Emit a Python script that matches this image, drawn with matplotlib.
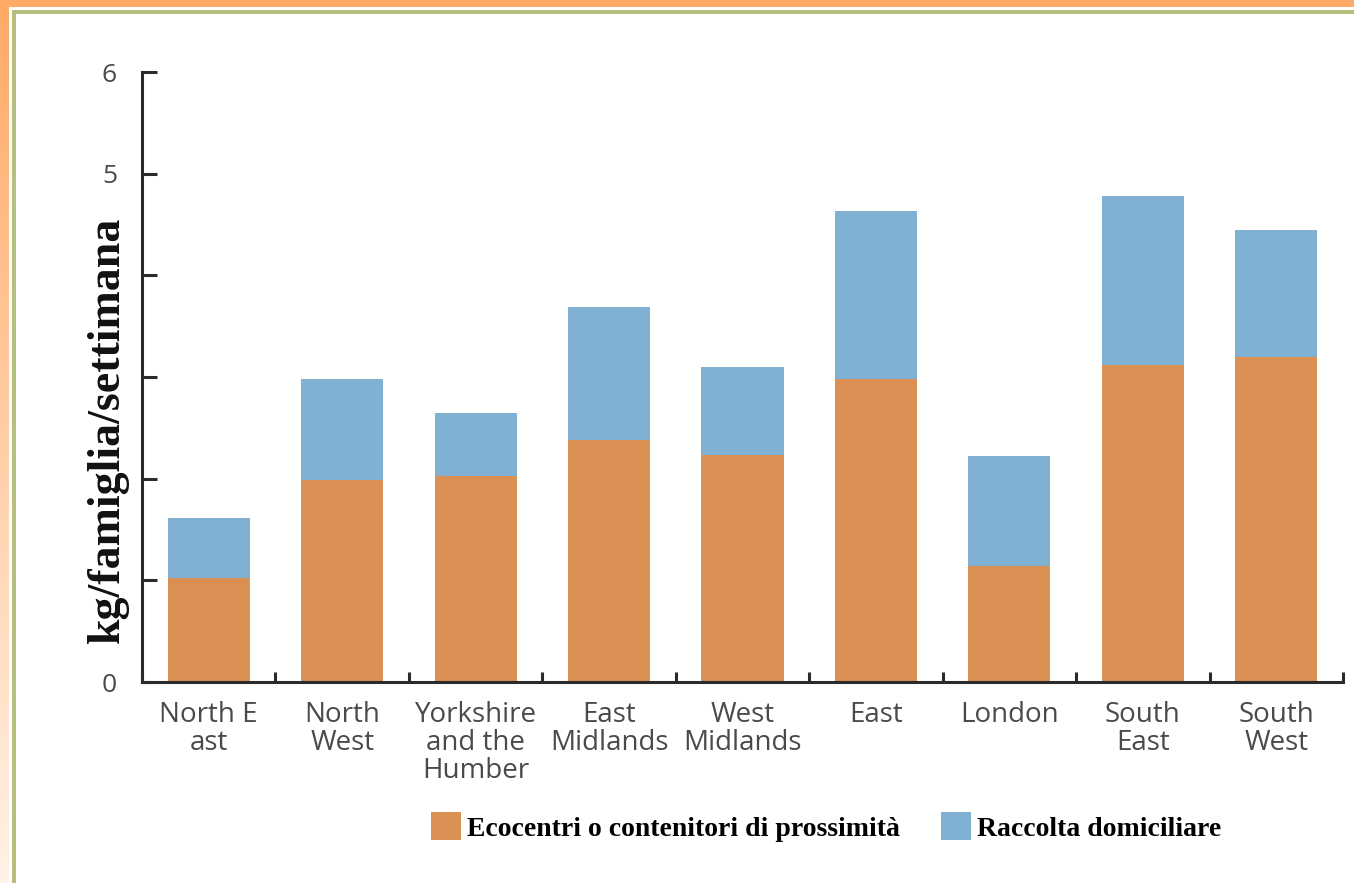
import matplotlib
matplotlib.use("Agg")
import matplotlib.pyplot as plt
import numpy as np
from matplotlib.patches import Rectangle, Patch
from matplotlib.colors import LinearSegmentedColormap

regions = ["North E\nast", "North\nWest", "Yorkshire\nand the\nHumber", "East\nMidlands",
           "West\nMidlands", "East", "London", "South\nEast", "South\nWest"]
ecocentri = [1.02, 1.99, 2.03, 2.38, 2.23, 2.98, 1.14, 3.12, 3.20]
domiciliare = [0.59, 0.99, 0.62, 1.31, 0.87, 1.65, 1.08, 1.66, 1.25]
yticks = [0, 1, 2, 3, 4, 5, 6]
ytick_labels = ["0", "", "", "", "", "5", "6"]
series_names = ["Ecocentri o contenitori di prossimità", "Raccolta domiciliare"]

ORANGE = "#DA8F53"
BLUE = "#80B1D3"
W, H = 1354, 883

fig = plt.figure(figsize=(W / 100, H / 100), dpi=100)
fig.patch.set_facecolor("white")

# frame decorations
bg = fig.add_axes([0, 0, 9 / W, 1])
grad = np.linspace(0, 1, 256).reshape(-1, 1)
cmap = LinearSegmentedColormap.from_list("g", ["#FFAA66", "#FFF2E6"])
bg.imshow(grad, aspect="auto", cmap=cmap, extent=[0, 1, 0, 1], origin="upper")
bg.axis("off")
fig.patches.append(Rectangle((0, 1 - 7 / H), 1, 7 / H, transform=fig.transFigure,
                             facecolor="#FFAA66", edgecolor="none", zorder=0))
fig.patches.append(Rectangle((12 / W, 0), 4 / W, 1 - 11 / H, transform=fig.transFigure,
                             facecolor="#B8BF7E", edgecolor="none", zorder=0))
fig.patches.append(Rectangle((12 / W, 1 - 14 / H), 1, 4 / H, transform=fig.transFigure,
                             facecolor="#B8BF7E", edgecolor="none", zorder=0))

ax = fig.add_axes([142 / W, (H - 682) / H, (1343 - 142) / W, (682 - 72) / H])
ax.set_facecolor("none")
x = np.arange(len(regions))
ax.bar(x, ecocentri, width=0.615, color=ORANGE, label=series_names[0], zorder=2)
ax.bar(x, domiciliare, width=0.615, bottom=ecocentri, color=BLUE, label=series_names[1], zorder=2)

ax.set_xlim(-0.5, len(regions) - 0.5)
ax.set_ylim(0, 6)
for s in ["top", "right"]:
    ax.spines[s].set_visible(False)
for s in ["left", "bottom"]:
    ax.spines[s].set_linewidth(2.2)
    ax.spines[s].set_color("#2b2b2b")

ax.set_yticks(yticks)
ax.set_yticklabels(ytick_labels, fontsize=19, color="#4a4a4a", family="Open Sans")
ax.tick_params(axis="y", direction="in", length=11, width=2.2, color="#2b2b2b", pad=18)

ax.set_xticks(np.arange(-0.5, len(regions)), minor=False)
ax.set_xticklabels([])
ax.tick_params(axis="x", which="major", direction="in", length=7, width=2.2, color="#2b2b2b")
ax.set_xticks(x, minor=True)
ax.set_xticklabels(regions, minor=True, fontsize=20, color="#4a4a4a", family="Open Sans",
                   linespacing=1.0)
ax.tick_params(axis="x", which="minor", length=0, pad=14)

fig.text(108 / W, 1 - 430 / H, "kg/famiglia/settimana", rotation=90, ha="center", va="center",
         fontsize=33, fontweight="bold", family="Liberation Serif", color="#111111")

handles = [Patch(facecolor=ORANGE), Patch(facecolor=BLUE)]
leg = fig.legend(handles, series_names, loc="center", bbox_to_anchor=(826 / W, 1 - 827 / H),
                 ncol=2, frameon=False, handlelength=1.08, handleheight=1.15, handletextpad=0.2,
                 columnspacing=1.5, prop={"family": "Liberation Serif", "weight": "bold", "size": 20})

fig.savefig("out.png", dpi=100)
